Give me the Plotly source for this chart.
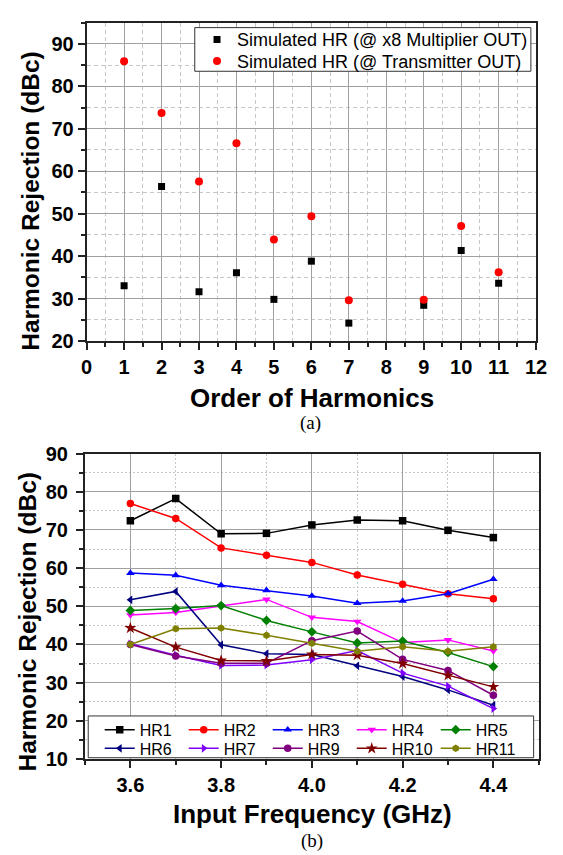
import plotly.graph_objects as go

# ---------------- data: panel (a) ----------------
orders_mult = [1, 2, 3, 4, 5, 6, 7, 9, 10, 11]
hr_mult_out = [33.0, 56.4, 31.6, 36.1, 29.8, 38.8, 24.2, 28.4, 41.3, 33.6]
orders_tx = [1, 2, 3, 4, 5, 6, 7, 9, 10, 11]
hr_tx_out = [85.9, 73.7, 57.6, 66.6, 43.9, 49.4, 29.6, 29.7, 47.1, 36.2]

# ---------------- data: panel (b) ----------------
freq_ghz = [3.6, 3.7, 3.8, 3.9, 4.0, 4.1, 4.2, 4.3, 4.4]
series_names = ["HR1", "HR2", "HR3", "HR4", "HR5", "HR6", "HR7", "HR9", "HR10", "HR11"]
hr1 = [72.4, 78.2, 69.0, 69.1, 71.3, 72.6, 72.4, 69.9, 68.0]
hr2 = [76.9, 73.0, 65.3, 63.4, 61.5, 58.2, 55.8, 53.3, 52.0]
hr3 = [58.7, 58.1, 55.5, 54.2, 52.7, 50.8, 51.4, 53.3, 57.1]
hr4 = [47.7, 48.4, 50.1, 51.8, 47.1, 46.0, 40.5, 41.2, 38.3]
hr5 = [48.9, 49.4, 50.2, 46.3, 43.3, 40.4, 40.9, 37.9, 34.2]
hr6 = [51.7, 53.9, 39.9, 37.6, 37.4, 34.4, 31.6, 28.1, 24.1]
hr7 = [40.2, 37.2, 34.5, 34.6, 36.0, 38.4, 32.5, 29.1, 23.2]
hr9 = [40.0, 37.0, 35.1, 35.1, 41.0, 43.5, 36.1, 33.2, 26.7]
hr10 = [44.3, 39.3, 35.8, 35.7, 37.4, 37.2, 35.0, 31.9, 28.9]
hr11 = [40.0, 44.1, 44.3, 42.4, 40.3, 38.2, 39.4, 38.2, 39.4]
series_values = [hr1, hr2, hr3, hr4, hr5, hr6, hr7, hr9, hr10, hr11]

# ---------------- styles ----------------
series_colors = ["#000000", "#FF0000", "#0000FF", "#FF00FF", "#008000",
                 "#000080", "#8000FF", "#800080", "#800000", "#808000"]
series_symbols = ["square", "circle", "triangle-up", "triangle-down", "diamond",
                  "triangle-left", "triangle-right", "circle", "star", "hexagon"]

W, H = 563, 855
ML, MR, MT, MB = 84, 14, 11, 95
PW, PH = W - ML - MR, H - MT - MB


def px_x(px):
    return (px - ML) / PW


def px_y(py):
    return (H - MB - py) / PH


FONT = "Liberation Sans, Arial, sans-serif"
SERIF = "Liberation Serif, Times New Roman, serif"

fig = go.Figure()

fig.add_trace(go.Scatter(
    x=orders_mult, y=hr_mult_out, mode="markers",
    name="Simulated HR (@ x8 Multiplier OUT)",
    marker=dict(symbol="square", size=7, color="#000000"),
    xaxis="x", yaxis="y", legend="legend"))
fig.add_trace(go.Scatter(
    x=orders_tx, y=hr_tx_out, mode="markers",
    name="Simulated HR (@ Transmitter OUT)",
    marker=dict(symbol="circle", size=8, color="#FF0000"),
    xaxis="x", yaxis="y", legend="legend3"))

for i, (name, vals, col, sym) in enumerate(zip(series_names, series_values,
                                                series_colors, series_symbols)):
    fig.add_trace(go.Scatter(
        x=freq_ghz, y=vals, mode="lines+markers", name=name,
        line=dict(color=col, width=1.5),
        marker=dict(symbol=sym, size=9 if sym == "star" else 7.5, color=col),
        xaxis="x2", yaxis="y2", legend="legend2" if i < 5 else "legend4"))

major_grid = "#a0a0a0"
minor_grid = "#c6c6c6"
frame = "#222222"
tickfont = dict(family=FONT, size=20, color="#000000", weight="bold")

common_axis = dict(showline=True, linecolor=frame, linewidth=2, mirror=True,
                   ticks="outside", ticklen=7, tickwidth=1.5, tickcolor=frame,
                   showgrid=True, gridcolor=major_grid, gridwidth=1,
                   zeroline=False, tickfont=tickfont)


def minor(dt, t0, dash):
    return dict(dtick=dt, tick0=t0, ticks="outside", ticklen=4, tickcolor=frame, tickwidth=1.5,
                showgrid=True, gridcolor=minor_grid, griddash=dash, gridwidth=1)


def top_legend(py):
    return dict(x=px_x(199), y=px_y(py), xanchor="left", yanchor="middle",
                bgcolor="rgba(0,0,0,0)", borderwidth=0,
                font=dict(family=FONT, size=18, color="#000000"),
                orientation="v", tracegroupgap=0)


def bottom_legend(py):
    return dict(x=px_x(100), y=px_y(py), xanchor="left", yanchor="middle",
                bgcolor="rgba(0,0,0,0)", borderwidth=0,
                font=dict(family=FONT, size=16, color="#000000"),
                orientation="h", entrywidth=39, entrywidthmode="pixels",
                traceorder="normal")


fig.update_layout(
    width=W, height=H,
    margin=dict(l=ML, r=MR, t=MT, b=MB),
    paper_bgcolor="white", plot_bgcolor="white",
    showlegend=True,
    xaxis=dict(domain=[px_x(86.7), px_x(544)], anchor="y", range=[0, 12],
               tickmode="linear", tick0=0, dtick=1,
               minor=minor(0.5, 0, "4px,3px"), **common_axis),
    yaxis=dict(domain=[px_y(334.7), px_y(11.7)], anchor="x", range=[20, 95],
               tickmode="array", tickvals=[20, 30, 40, 50, 60, 70, 80, 90],
               minor=minor(5, 20, "4px,3px"), **common_axis),
    xaxis2=dict(domain=[px_x(85), px_x(546.7)], anchor="y2", range=[3.5, 4.5],
                tickmode="linear", tick0=3.6, dtick=0.2, tickformat=".1f",
                minor=minor(0.1, 3.5, "2px,2px"), **common_axis),
    yaxis2=dict(domain=[px_y(759), px_y(449)], anchor="x2", range=[10, 90],
                tickmode="linear", tick0=10, dtick=10, ticklabelstandoff=4,
                minor=minor(5, 10, "2px,2px"), **common_axis),
    legend=top_legend(29),
    legend3=top_legend(51),
    legend2=bottom_legend(729.3),
    legend4=bottom_legend(748.3),
)

# legend frames
box_style = dict(type="rect", xref="paper", yref="paper", layer="above",
                 fillcolor="white", line=dict(color="#333333", width=1))
fig.add_shape(x0=px_x(196.7), x1=px_x(538.7), y0=px_y(61), y1=px_y(16.7), **box_style)
fig.add_shape(x0=px_x(88.3), x1=px_x(541.5), y0=px_y(757.7), y1=px_y(715.3), **box_style)

ytitle_font = dict(family=FONT, size=24.5, color="#000000", weight="bold")
xtitle_font = dict(family=FONT, size=26, color="#000000", weight="bold")
cap_font = dict(family=SERIF, size=19, color="#000000")
annotations = [
    dict(text="Harmonic Rejection (dBc)", x=px_x(30), y=px_y(192.5), textangle=-90,
         font=ytitle_font),
    dict(text="Order of Harmonics", x=px_x(315.5), y=px_y(392.7), font=xtitle_font),
    dict(text="(a)", x=px_x(314), y=px_y(418), font=cap_font),
    dict(text="Harmonic Rejection (dBc)", x=px_x(27), y=px_y(619.5), textangle=-90,
         font=ytitle_font),
    dict(text="Input Frequency (GHz)", x=px_x(317), y=px_y(815), font=xtitle_font),
    dict(text="(b)", x=px_x(316), y=px_y(842.7), font=cap_font),
]
for a in annotations:
    a.update(xref="paper", yref="paper", showarrow=False, xanchor="center", yanchor="middle")
fig.update_layout(annotations=annotations)

fig.write_html("out.html")
